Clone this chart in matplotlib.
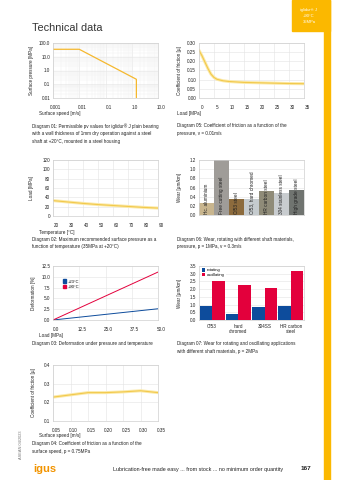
import matplotlib
matplotlib.use("Agg")
import matplotlib.pyplot as plt
import matplotlib.transforms as mtransforms
from matplotlib.patches import Patch, Rectangle
import numpy as np

plt.rcParams['font.family'] = ['Liberation Sans', 'DejaVu Sans']

W, H = 339, 480

# diagram 01 - pv values
d1_speed = [0.001, 0.01, 1.5, 1.5]
d1_press = [35, 35, 0.23, 0.01]

# diagram 05 - friction vs load
d5_load = [0, 1, 2, 3, 4, 5, 6, 8, 10, 15, 20, 25, 30, 35]
d5_mu = [0.26, 0.23, 0.195, 0.16, 0.13, 0.112, 0.102, 0.094, 0.09, 0.085, 0.083, 0.081, 0.079, 0.078]

# diagram 02 - load vs temperature
d2_temp = [20, 30, 40, 50, 60, 70, 80, 90]
d2_load = [33, 30, 27, 24.5, 22.5, 20.5, 18.5, 17]

# diagram 06 - wear with shaft materials
d6_materials = ["Hc. aluminium", "Free cutting steel", "Cf53 steel", "Cf53, hard chromed",
                "HR carbon steel", "304 stainless steel", "High grade steel"]
d6_wear = [0.27, 1.2, 0.34, 0.34, 0.52, 0.47, 0.55]
d6_colors = ['#c8b58e', '#9f9c98', '#8c6b3d', '#c5cbce', '#8f8b78', '#c8cccf', '#707470']

# diagram 03 - deformation
d3_load = [0, 50]
d3_23 = [0, 2.6]
d3_90 = [0, 11.1]

# diagram 07 - rotating / oscillating wear
d7_shafts = ["Cf53", "hard\nchromed", "304SS", "HR carbon\nsteel"]
d7_rot = [0.9, 0.4, 0.82, 0.9]
d7_osc = [2.5, 2.25, 2.05, 3.2]

# diagram 04 - friction vs speed
d4_speed = [0.05, 0.10, 0.15, 0.20, 0.25, 0.30, 0.35]
d4_mu = [0.228, 0.240, 0.252, 0.252, 0.256, 0.262, 0.252]

YEL = '#f2c94c'
YEL_LIGHT = '#fbe9a8'
BLUE = '#0d4c9c'
RED = '#e3003c'
TXT = '#222222'
FS = 3.3

fig = plt.figure(figsize=(W / 100, H / 100), dpi=100)


def px_axes(l, t, r, b):
    return fig.add_axes([l / W, 1 - b / H, (r - l) / W, (b - t) / H])


def ftext(x, y, s, **kw):
    kw.setdefault('fontsize', FS)
    kw.setdefault('color', TXT)
    kw.setdefault('va', 'center')
    fig.text(x / W, 1 - y / H, s, **kw)


def style(ax, ylab, ylab_x, t, b):
    ax.tick_params(length=0, labelsize=FS, pad=2, colors=TXT)
    ax.tick_params(axis='x', pad=5)
    for s in ax.spines.values():
        s.set_color('#cfcfcf')
        s.set_linewidth(0.5)
    ax.grid(True, color='#e3e3e3', lw=0.4)
    ax.set_axisbelow(True)
    off = mtransforms.ScaledTranslation(3 / 100, 0, fig.dpi_scale_trans)
    for lab in ax.get_xticklabels():
        lab.set_transform(lab.get_transform() + off)
    ftext(ylab_x, (t + b) / 2, ylab, rotation=90, ha='center')


# header
fig.patches.append(Rectangle((292 / W, 1 - 31 / H), 38 / W, 31 / H, transform=fig.transFigure,
                             color='#fbb800', zorder=0))
fig.patches.append(Rectangle((324 / W, 0), 6 / W, 1, transform=fig.transFigure,
                             color='#fbb800', zorder=0))
ftext(309, 10, "iglidur® J", color='white', ha='center', fontsize=3)
ftext(309, 16, "+90°C", color='white', ha='center', fontsize=3)
ftext(309, 22, "35MPa", color='white', ha='center', fontsize=3)
ftext(32, 28, "Technical data", fontsize=7.8, color='#333333')

# ---- diagram 01
ax = px_axes(53, 43, 158, 98)
ax.plot(d1_speed, d1_press, color='#f5b82e', lw=0.9)
ax.set_xscale('log')
ax.set_yscale('log')
ax.set_xlim(0.001, 10)
ax.set_ylim(0.01, 100)
ax.set_xticks([0.001, 0.01, 0.1, 1, 10])
ax.set_xticklabels(["0.001", "0.01", "0.1", "1.0", "10.0"])
ax.set_yticks([0.01, 0.1, 1, 10, 100])
ax.set_yticklabels(["0.01", "0.1", "1.0", "10.0", "100.0"])
ax.minorticks_on()
ax.tick_params(which='minor', length=0, labelleft=False, labelbottom=False)
ax.grid(True, which='minor', color='#efefef', lw=0.3)
style(ax, "Surface pressure [MPa]", 32, 43, 98)
ftext(39, 113, "Surface speed [m/s]")
ftext(32, 126, "Diagram 01: Permissible pv values for iglidur® J plain bearing")
ftext(32, 134, "with a wall thickness of 1mm dry operation against a steel")
ftext(32, 142, "shaft at +20°C, mounted in a steel housing")

# ---- diagram 05
ax = px_axes(199, 43, 304, 98)
ax.plot(d5_load, d5_mu, color=YEL_LIGHT, lw=2.2, solid_capstyle='round')
ax.plot(d5_load, d5_mu, color=YEL, lw=0.8)
ax.set_xlim(0, 35)
ax.set_ylim(0, 0.30)
ax.set_xticks(np.arange(0, 36, 5))
ax.set_yticks(np.arange(0, 0.31, 0.05))
ax.set_yticklabels(["%.2f" % v for v in np.arange(0, 0.31, 0.05)])
style(ax, "Coefficient of friction [µ]", 179, 43, 98)
ftext(177, 113, "Load [MPa]")
ftext(177, 126, "Diagram 05: Coefficient of friction as a function of the")
ftext(177, 134, "pressure, v = 0.01m/s")

# ---- diagram 02
ax = px_axes(53, 160, 158, 216)
ax.plot(d2_temp, d2_load, color=YEL_LIGHT, lw=2.2)
ax.plot(d2_temp, d2_load, color=YEL, lw=0.8)
ax.set_xlim(20, 90)
ax.set_ylim(0, 120)
ax.set_xticks(np.arange(20, 91, 10))
ax.set_yticks(np.arange(0, 121, 20))
style(ax, "Load [MPa]", 32, 160, 216)
ftext(39, 232, "Temperature [°C]")
ftext(32, 239, "Diagram 02: Maximum recommended surface pressure as a")
ftext(32, 247, "function of temperature (35MPa at +20°C)")

# ---- diagram 06
ax = px_axes(199, 160, 304, 215)
xs = np.arange(len(d6_wear))
ax.bar(xs, d6_wear, width=0.95, color=d6_colors)
for x, name in zip(xs, d6_materials):
    ax.text(x, 0.03, name, rotation=90, ha='center', va='bottom', fontsize=3.4, color=TXT)
ax.set_xlim(-0.5, len(d6_wear) - 0.5)
ax.set_ylim(0, 1.2)
ax.set_xticks([])
ax.set_yticks(np.arange(0, 1.21, 0.2))
ax.set_yticklabels(["%.1f" % v for v in np.arange(0, 1.21, 0.2)])
style(ax, "Wear [µm/km]", 179, 160, 215)
ax.grid(False, axis='x')
ftext(177, 239, "Diagram 06: Wear, rotating with different shaft materials,")
ftext(177, 247, "pressure, p = 1MPa, v = 0.3m/s")

# ---- diagram 03
ax = px_axes(53, 266, 158, 320)
ax.plot(d3_load, d3_23, color=BLUE, lw=0.7)
ax.plot(d3_load, d3_90, color=RED, lw=0.7)
ax.set_xlim(0, 50)
ax.set_ylim(0, 12.5)
ax.set_xticks(np.arange(0, 50.1, 12.5))
ax.set_xticklabels(["%.1f" % v for v in np.arange(0, 50.1, 12.5)])
ax.set_yticks(np.arange(0, 12.6, 2.5))
ax.set_yticklabels(["%.1f" % v for v in np.arange(0, 12.6, 2.5)])
style(ax, "Deformation [%]", 33, 266, 320)
ax.legend(handles=[Patch(color=BLUE, label="+23°C"), Patch(color=RED, label="+90°C")],
          loc='upper left', bbox_to_anchor=(0.06, 0.82), frameon=False, fontsize=3,
          handlelength=0.8, handleheight=0.8, handletextpad=0.4, labelspacing=0.3)
ftext(39, 335, "Load [MPa]")
ftext(32, 344, "Diagram 03: Deformation under pressure and temperature")

# ---- diagram 07
ax = px_axes(199, 266, 304, 320)
xs = np.arange(len(d7_shafts))
ax.bar(xs - 0.24, d7_rot, width=0.48, color=BLUE, label="rotating")
ax.bar(xs + 0.24, d7_osc, width=0.48, color=RED, label="oscillating")
ax.set_xlim(-0.5, len(d7_shafts) - 0.5)
ax.set_ylim(0, 3.5)
ax.set_xticks(xs)
ax.set_xticklabels(d7_shafts, linespacing=0.9)
ax.set_yticks(np.arange(0, 3.51, 0.5))
ax.set_yticklabels(["%.1f" % v for v in np.arange(0, 3.51, 0.5)])
style(ax, "Wear [µm/km]", 179, 266, 320)
ax.grid(False, axis='x')
ax.tick_params(axis='x', pad=3)
ax.legend(loc='upper left', bbox_to_anchor=(0.0, 1.01), fontsize=3, frameon=True,
          facecolor='white', edgecolor='none', framealpha=1, borderpad=0.2,
          handlelength=0.8, handleheight=0.8, handletextpad=0.4, labelspacing=0.2)
ftext(177, 344, "Diagram 07: Wear for rotating and oscillating applications")
ftext(177, 352, "with different shaft materials, p = 2MPa")

# ---- diagram 04
ax = px_axes(53, 365, 158, 421)
ax.plot(d4_speed, d4_mu, color=YEL_LIGHT, lw=2.2)
ax.plot(d4_speed, d4_mu, color=YEL, lw=0.8)
ax.set_xlim(0.05, 0.35)
ax.set_ylim(0.1, 0.4)
ax.set_xticks(np.arange(0.05, 0.351, 0.05))
ax.set_xticklabels(["%.2f" % v for v in np.arange(0.05, 0.351, 0.05)])
ax.set_yticks(np.arange(0.1, 0.41, 0.1))
ax.set_yticklabels(["%.1f" % v for v in np.arange(0.1, 0.41, 0.1)])
style(ax, "Coefficient of friction [µ]", 33, 365, 421)
ftext(39, 435, "Surface speed [m/s]")
ftext(32, 443, "Diagram 04: Coefficient of friction as a function of the")
ftext(32, 452, "surface speed, p = 0.75MPa")

# footer
ftext(21, 445, "ASEAN 04/2023", rotation=90, ha='center', fontsize=2.8, color='#777777')
ftext(33, 469, "igus", fontsize=8, fontweight='bold', color='#f29400', ha='left')
ftext(113, 469, "Lubrication-free made easy ... from stock ... no minimum order quantity",
      fontsize=3.9)
ftext(306, 469, "167", fontsize=4.6, fontweight='bold', ha='center')

fig.savefig("out.png", dpi=100)
